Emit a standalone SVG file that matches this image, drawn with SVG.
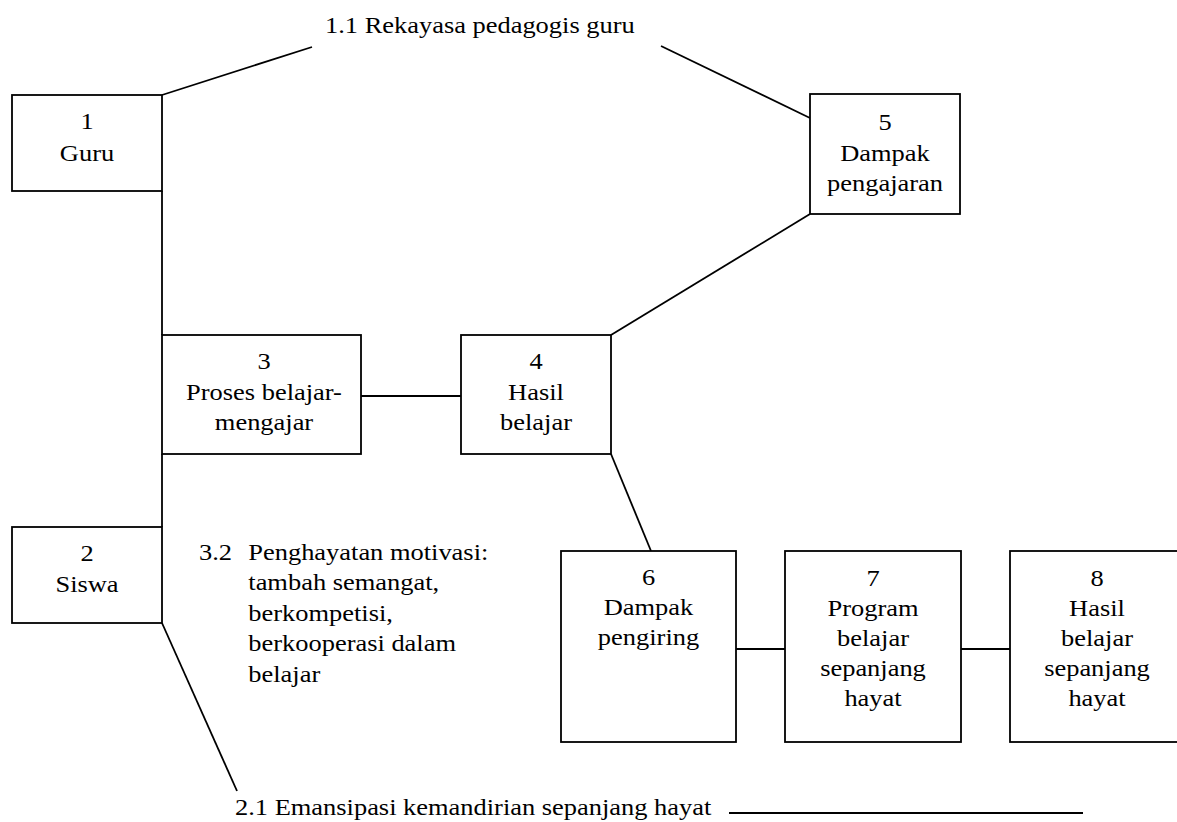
<svg xmlns="http://www.w3.org/2000/svg" width="1177" height="822" viewBox="0 0 1177 822">
<style>
.box{fill:#fff;stroke:#000;stroke-width:1.8}
.ln{stroke:#000;stroke-width:1.8;fill:none}
.t{font-family:"Liberation Serif","Times New Roman",serif;font-size:23px;fill:#000}
.c{text-anchor:middle}
</style>
<rect width="1177" height="822" fill="#fff"/>
<g id="connectors">
<line class="ln" x1="162" y1="95" x2="312" y2="47"/>
<line class="ln" x1="661" y1="46" x2="810" y2="118"/>
<line class="ln" x1="810" y1="214" x2="611" y2="335"/>
<line class="ln" x1="162" y1="191" x2="162" y2="335"/>
<line class="ln" x1="162" y1="454" x2="162" y2="527"/>
<line class="ln" x1="361" y1="396" x2="461" y2="396"/>
<line class="ln" x1="611" y1="454" x2="651" y2="551"/>
<line class="ln" x1="736" y1="649" x2="785" y2="649"/>
<line class="ln" x1="961" y1="649" x2="1010" y2="649"/>
<line class="ln" x1="162" y1="623" x2="237" y2="791"/>
<line class="ln" x1="729" y1="813" x2="1083" y2="813"/>
</g>
<g id="label-1-1">
<text class="t" transform="matrix(1.15 0 0 1 325 0)" x="0" y="33">1.1 Rekayasa pedagogis guru</text>
</g>
<g id="label-2-1">
<text class="t" transform="matrix(1.15 0 0 1 235 0)" x="0" y="815">2.1 Emansipasi kemandirian sepanjang hayat</text>
</g>
<g id="label-3-2">
<text class="t" transform="matrix(1.15 0 0 1 199 0)" x="0" y="560">3.2</text>
<g transform="matrix(1.15 0 0 1 248.3 0)">
<text class="t" x="0" y="560">Penghayatan motivasi:</text>
<text class="t" x="0" y="590.5">tambah semangat,</text>
<text class="t" x="0" y="621">berkompetisi,</text>
<text class="t" x="0" y="651.5">berkooperasi dalam</text>
<text class="t" x="0" y="682">belajar</text>
</g>
</g>
<g id="node1">
<rect class="box" x="12" y="95" width="150" height="96"/>
<g transform="matrix(1.15 0 0 1 87 0)">
<text class="t c" x="0" y="129.5">1</text>
<text class="t c" x="0" y="161">Guru</text>
</g>
</g>
<g id="node2">
<rect class="box" x="12" y="527" width="150" height="96"/>
<g transform="matrix(1.15 0 0 1 87 0)">
<text class="t c" x="0" y="561">2</text>
<text class="t c" x="0" y="592">Siswa</text>
</g>
</g>
<g id="node3">
<rect class="box" x="162" y="335" width="199" height="119"/>
<g transform="matrix(1.15 0 0 1 264 0)">
<text class="t c" x="0" y="369">3</text>
<text class="t c" x="0" y="400">Proses belajar-</text>
<text class="t c" x="0" y="430">mengajar</text>
</g>
</g>
<g id="node4">
<rect class="box" x="461" y="335" width="150" height="119"/>
<g transform="matrix(1.15 0 0 1 536 0)">
<text class="t c" x="0" y="369">4</text>
<text class="t c" x="0" y="400">Hasil</text>
<text class="t c" x="0" y="430">belajar</text>
</g>
</g>
<g id="node5">
<rect class="box" x="810" y="94" width="150" height="120"/>
<g transform="matrix(1.15 0 0 1 885 0)">
<text class="t c" x="0" y="130">5</text>
<text class="t c" x="0" y="161">Dampak</text>
<text class="t c" x="0" y="191">pengajaran</text>
</g>
</g>
<g id="node6">
<rect class="box" x="561" y="551" width="175" height="191"/>
<g transform="matrix(1.15 0 0 1 648.5 0)">
<text class="t c" x="0" y="585">6</text>
<text class="t c" x="0" y="615">Dampak</text>
<text class="t c" x="0" y="645">pengiring</text>
</g>
</g>
<g id="node7">
<rect class="box" x="785" y="551" width="176" height="191"/>
<g transform="matrix(1.15 0 0 1 873 0)">
<text class="t c" x="0" y="586">7</text>
<text class="t c" x="0" y="616">Program</text>
<text class="t c" x="0" y="646">belajar</text>
<text class="t c" x="0" y="676">sepanjang</text>
<text class="t c" x="0" y="706">hayat</text>
</g>
</g>
<g id="node8">
<rect class="box" x="1010" y="551" width="176" height="191"/>
<g transform="matrix(1.15 0 0 1 1097 0)">
<text class="t c" x="0" y="586">8</text>
<text class="t c" x="0" y="616">Hasil</text>
<text class="t c" x="0" y="646">belajar</text>
<text class="t c" x="0" y="676">sepanjang</text>
<text class="t c" x="0" y="706">hayat</text>
</g>
</g>
</svg>
